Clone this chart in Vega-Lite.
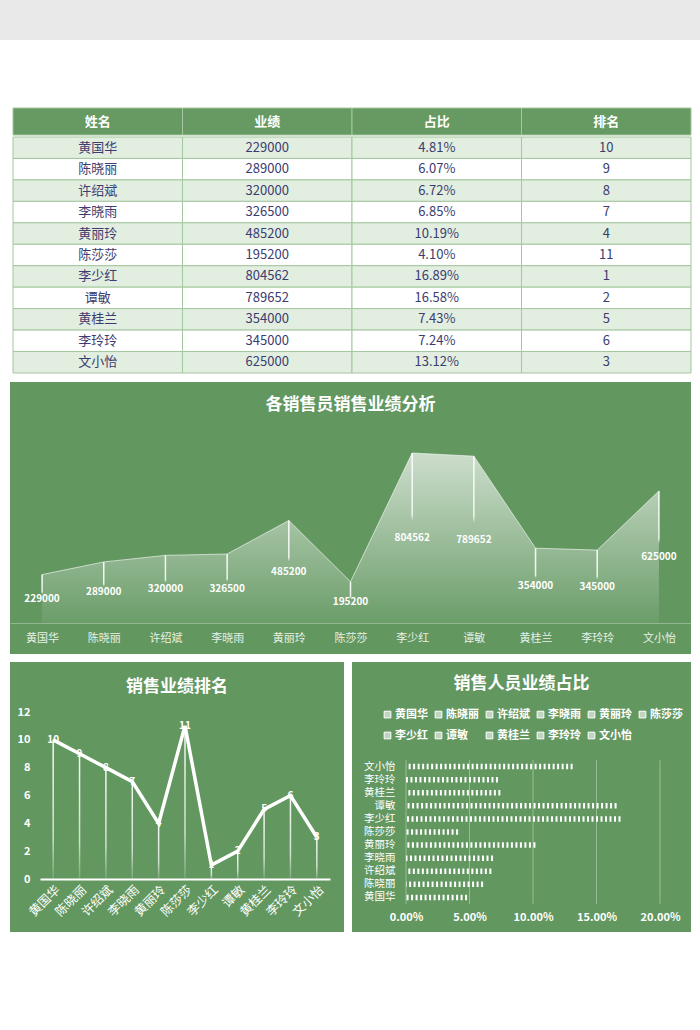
{
  "$schema": "https://vega.github.io/schema/vega-lite/v6.json",
  "padding": 0,
  "background": "#ffffff",
  "spacing": 8,
  "config": {"font": "Noto Sans CJK SC", "view": {"stroke": null}},
  "resolve": {"scale": {"color": "independent"}, "legend": {"color": "independent"}},
  "datasets": {
    "sales": [
      {"姓名": "黄国华", "业绩": 229000, "占比": 0.0481, "排名": 10},
      {"姓名": "陈晓丽", "业绩": 289000, "占比": 0.0607, "排名": 9},
      {"姓名": "许绍斌", "业绩": 320000, "占比": 0.0672, "排名": 8},
      {"姓名": "李晓雨", "业绩": 326500, "占比": 0.0685, "排名": 7},
      {"姓名": "黄丽玲", "业绩": 485200, "占比": 0.1019, "排名": 4},
      {"姓名": "陈莎莎", "业绩": 195200, "占比": 0.0410, "排名": 11},
      {"姓名": "李少红", "业绩": 804562, "占比": 0.1689, "排名": 1},
      {"姓名": "谭敏", "业绩": 789652, "占比": 0.1658, "排名": 2},
      {"姓名": "黄桂兰", "业绩": 354000, "占比": 0.0743, "排名": 5},
      {"姓名": "李玲玲", "业绩": 345000, "占比": 0.0724, "排名": 6},
      {"姓名": "文小怡", "业绩": 625000, "占比": 0.1312, "排名": 3}
    ]
  },
  "vconcat": [
    {"width": 700, "height": 40, "data": {"values": []}, "mark": "point", "view": {"fill": "#e9e9e9", "stroke": null}},
    {
      "spacing": 11,
      "hconcat": [
        {"width": 1, "height": 1, "data": {"values": []}, "mark": "point"},
        {
          "spacing": 0,
          "vconcat": [
            {
              "width": 678, "height": 87,
              "data": {"name": "sales"},
              "transform": [{"window": [{"op": "row_number", "as": "i"}]}, {"filter": "datum.i == 1"}, {"fold": ["姓名", "业绩", "占比", "排名"], "as": ["col", "val"]}],
              "encoding": {
                "x": {"field": "col", "type": "nominal", "scale": {"domain": ["姓名", "业绩", "占比", "排名"], "paddingInner": 0, "paddingOuter": 0}, "axis": null},
                "y": {"datum": "表头", "scale": {"type": "band", "domain": ["表头"], "range": [60, 87], "paddingInner": 0, "paddingOuter": 0}, "axis": null}
              },
              "layer": [
                {"mark": {"type": "rect", "fill": "#669a62", "stroke": "#a3c79e", "strokeWidth": 1}},
                {"mark": {"type": "text", "color": "#ffffff", "fontWeight": "bold", "fontSize": 13}, "encoding": {"text": {"field": "col", "type": "nominal"}}}
              ]
            },
            {
              "width": 678, "height": 236,
              "data": {"name": "sales"},
              "transform": [{"window": [{"op": "row_number", "as": "i"}]}],
              "layer": [
                {
                  "transform": [{"fold": ["姓名", "业绩", "占比", "排名"], "as": ["col", "val"]}],
                  "mark": {"type": "rect", "stroke": "#a3c79e", "strokeWidth": 1},
                  "encoding": {
                    "x": {"field": "col", "type": "nominal", "scale": {"domain": ["姓名", "业绩", "占比", "排名"], "paddingInner": 0, "paddingOuter": 0}, "axis": null},
                    "y": {"field": "姓名", "type": "nominal", "sort": null, "scale": {"type": "band", "domain": ["黄国华", "陈晓丽", "许绍斌", "李晓雨", "黄丽玲", "陈莎莎", "李少红", "谭敏", "黄桂兰", "李玲玲", "文小怡"], "paddingInner": 0, "paddingOuter": 0}, "axis": null},
                    "fill": {"condition": {"test": "datum.i % 2 == 1", "value": "#e2eee0"}, "value": "#ffffff"}
                  }
                },
                {
                  "transform": [{"fold": ["姓名", "业绩", "排名"], "as": ["col", "val"]}],
                  "mark": {"type": "text", "color": "#3c3c70", "fontSize": 13},
                  "encoding": {"x": {"field": "col", "type": "nominal"}, "y": {"field": "姓名", "type": "nominal"}, "text": {"field": "val", "type": "nominal"}}
                },
                {
                  "mark": {"type": "text", "color": "#3c3c70", "fontSize": 13},
                  "encoding": {"x": {"datum": "占比"}, "y": {"field": "姓名", "type": "nominal"}, "text": {"field": "占比", "type": "quantitative", "format": ".2%"}}
                }
              ]
            }
          ]
        }
      ]
    },
    {
      "spacing": 9,
      "hconcat": [
        {"width": 1, "height": 1, "data": {"values": []}, "mark": "point"},
        {
          "width": 681, "height": 272,
          "view": {"fill": "#629760", "stroke": null},
          "title": {"text": "各销售员销售业绩分析", "color": "#ffffff", "fontSize": 17, "fontWeight": "bold", "anchor": "middle", "frame": "group", "offset": -32},
          "data": {"name": "sales"},
          "encoding": {
            "x": {"field": "姓名", "type": "nominal", "sort": null, "scale": {"type": "point", "padding": 0.52},
              "axis": {"orient": "bottom", "offset": -31, "title": null, "labelAngle": 0, "ticks": false, "tickSize": 0, "labelPadding": 9, "labelColor": "#e8f1e6", "labelFontSize": 11, "domainColor": "rgba(255,255,255,0.3)", "grid": false}}
          },
          "layer": [
            {
              "mark": {"type": "area", "fill": {"gradient": "linear", "x1": 0, "y1": 0, "x2": 0, "y2": 1, "stops": [{"offset": 0, "color": "rgba(255,255,255,0.68)"}, {"offset": 1, "color": "rgba(255,255,255,0.06)"}]}},
              "encoding": {
                "y": {"field": "业绩", "type": "quantitative", "scale": {"domain": [-146714, 1140582], "nice": false, "zero": false}, "axis": null},
                "y2": {"datum": 0}
              }
            },
            {
              "mark": {"type": "line", "stroke": "rgba(255,255,255,0.6)", "strokeWidth": 1},
              "encoding": {"y": {"field": "业绩", "type": "quantitative", "scale": {"domain": [-146714, 1140582], "nice": false, "zero": false}, "axis": null}}
            },
            {
              "mark": {"type": "rect", "width": 1.5, "fill": {"gradient": "linear", "x1": 0, "y1": 0, "x2": 0, "y2": 1, "stops": [{"offset": 0, "color": "rgba(255,255,255,0.95)"}, {"offset": 0.36, "color": "rgba(255,255,255,0.85)"}, {"offset": 0.4, "color": "rgba(255,255,255,0)"}, {"offset": 1, "color": "rgba(255,255,255,0)"}]}},
              "encoding": {
                "y": {"field": "业绩", "type": "quantitative", "scale": {"domain": [-146714, 1140582], "nice": false, "zero": false}, "axis": null},
                "y2": {"datum": 0}
              }
            },
            {
              "mark": {"type": "text", "color": "#ffffff", "fontWeight": "bold", "fontSize": 10},
              "encoding": {
                "y": {"field": "业绩", "type": "quantitative", "scale": {"domain": [-293428, 2281164], "nice": false, "zero": false}, "axis": null},
                "text": {"field": "业绩", "type": "nominal"}
              }
            }
          ],
          "resolve": {"scale": {"y": "independent"}}
        }
      ]
    },
    {
      "spacing": 8,
      "resolve": {"scale": {"color": "independent"}, "legend": {"color": "independent"}},
      "hconcat": [
        {"width": 2, "height": 1, "data": {"values": []}, "mark": "point"},
        {
          "width": 334, "height": 270,
          "view": {"fill": "#629760", "stroke": null},
          "title": {"text": "销售业绩排名", "color": "#ffffff", "fontSize": 17, "fontWeight": "bold", "anchor": "middle", "frame": "group", "offset": -34},
          "data": {"name": "sales"},
          "encoding": {
            "x": {"field": "姓名", "type": "nominal", "sort": null, "scale": {"type": "point", "range": [30, 320], "padding": 0.5},
              "axis": {"orient": "bottom", "offset": -53, "title": null, "labelAngle": -45, "labelAlign": "right", "labelBaseline": "top", "ticks": false, "tickSize": 0, "labelPadding": 4, "labelColor": "#ffffff", "labelFontSize": 12.5, "domainColor": "#ffffff", "domainWidth": 2, "grid": false}},
            "y": {"field": "排名", "type": "quantitative", "scale": {"domain": [0, 12], "range": [217, 50], "nice": false},
              "axis": {"orient": "left", "offset": -24, "title": null, "values": [0, 2, 4, 6, 8, 10, 12], "ticks": false, "domain": false, "grid": false, "labelPadding": 4, "labelColor": "#ffffff", "labelFontSize": 11, "labelFontWeight": "bold"}}
          },
          "layer": [
            {
              "mark": {"type": "rect", "width": 1.5, "fill": {"gradient": "linear", "x1": 0, "y1": 0, "x2": 0, "y2": 1, "stops": [{"offset": 0, "color": "rgba(255,255,255,0.95)"}, {"offset": 0.7, "color": "rgba(255,255,255,0.7)"}, {"offset": 1, "color": "rgba(255,255,255,0.15)"}]}},
              "encoding": {"y2": {"datum": 0}}
            },
            {
              "mark": {"type": "text", "color": "#ffffff", "fontWeight": "bold", "fontSize": 10},
              "encoding": {"text": {"field": "排名", "type": "nominal"}}
            },
            {
              "mark": {"type": "line", "stroke": "#ffffff", "strokeWidth": 3.5}
            }
          ]
        },
        {
          "width": 339, "height": 270,
          "view": {"fill": "#629760", "stroke": null},
          "title": {"text": "销售人员业绩占比", "color": "#ffffff", "fontSize": 17, "fontWeight": "bold", "anchor": "middle", "frame": "group", "offset": -31},
          "encoding": {
            "x": {"field": "占比", "type": "quantitative", "scale": {"domain": [0, 0.2], "range": [54, 308], "nice": false, "zero": true},
              "axis": {"orient": "bottom", "offset": -25, "title": null, "format": ".2%", "values": [0, 0.05, 0.1, 0.15, 0.2], "ticks": false, "tickSize": 0, "domain": false, "labelPadding": 4, "labelColor": "#ffffff", "labelFontSize": 11, "labelFontWeight": "bold", "labelFlush": false, "labelOverlap": false, "grid": false}}
          },
          "layer": [
            {
              "data": {"values": [{"占比": 0}, {"占比": 0.05}, {"占比": 0.1}, {"占比": 0.15}, {"占比": 0.2}]},
              "mark": {"type": "rule", "color": "rgba(255,255,255,0.35)", "strokeWidth": 1, "yOffset": -6.5, "y2Offset": 6.5},
              "encoding": {
                "y": {"datum": "文小怡", "axis": {"orient": "left", "offset": -50, "title": null, "ticks": false, "domain": false, "grid": false, "labelPadding": 7, "labelColor": "#ffffff", "labelFontSize": 10.5}},
                "y2": {"datum": "黄国华"}
              }
            },
            {
              "data": {"name": "sales"},
              "mark": {"type": "rule", "strokeWidth": 5.5, "strokeDash": [2, 2.5]},
              "encoding": {
                "y": {"field": "姓名", "type": "nominal", "scale": {"domain": ["文小怡", "李玲玲", "黄桂兰", "谭敏", "李少红", "陈莎莎", "黄丽玲", "李晓雨", "许绍斌", "陈晓丽", "黄国华"], "range": [98, 242]},
                  "axis": {"orient": "left", "offset": -50, "title": null, "ticks": false, "domain": false, "grid": false, "labelPadding": 7, "labelColor": "#ffffff", "labelFontSize": 10.5}},
                "x2": {"datum": 0},
                "color": {"field": "姓名", "type": "nominal",
                  "scale": {"domain": ["黄国华", "陈晓丽", "许绍斌", "李晓雨", "黄丽玲", "陈莎莎", "李少红", "谭敏", "黄桂兰", "李玲玲", "文小怡"], "range": ["#ffffff", "#ffffff", "#ffffff", "#ffffff", "#ffffff", "#ffffff", "#ffffff", "#ffffff", "#ffffff", "#ffffff", "#ffffff"]},
                  "legend": {"orient": "none", "legendX": 30, "legendY": 47, "direction": "horizontal", "columns": 6, "title": null, "symbolType": "square", "symbolSize": 45, "symbolFillColor": "rgba(255,255,255,0.6)", "symbolStrokeColor": "#ffffff", "symbolStrokeWidth": 1, "symbolDash": [], "labelColor": "#ffffff", "labelFontSize": 11, "labelFontWeight": "bold", "columnPadding": 5, "rowPadding": 9, "labelOffset": 2}}
              }
            }
          ]
        }
      ]
    }
  ]
}
